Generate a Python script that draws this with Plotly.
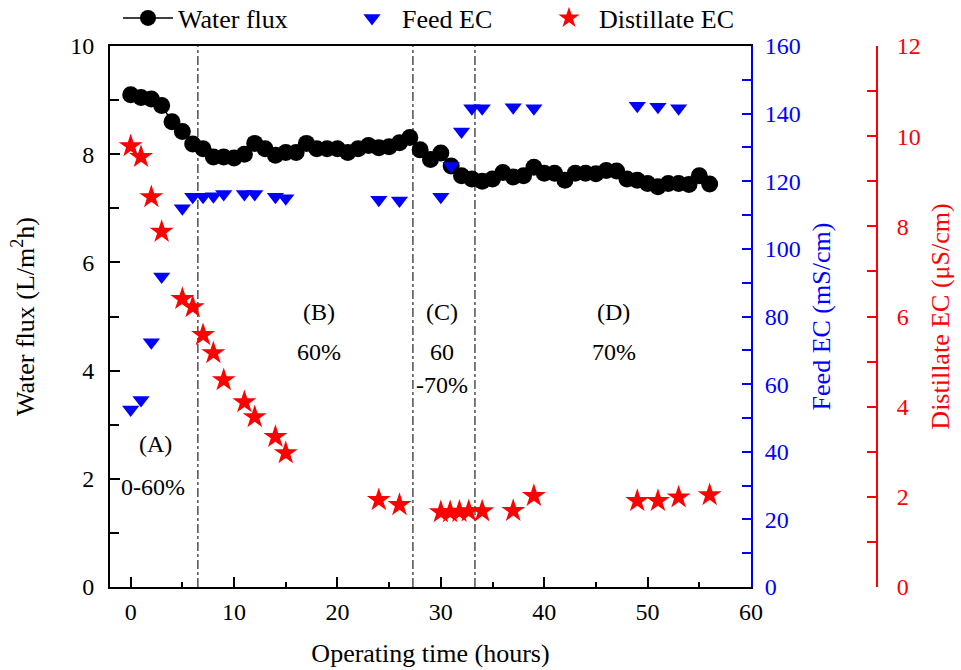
import plotly.graph_objects as go

# ---------------- data ----------------
flux_time = list(range(0, 57))
flux_values = [9.10, 9.05, 9.02, 8.90, 8.60, 8.42, 8.19, 8.10, 7.95, 7.95,
               7.93, 8.00, 8.20, 8.10, 7.98, 8.03, 8.03, 8.20, 8.10, 8.10,
               8.10, 8.03, 8.10, 8.16, 8.12, 8.14, 8.21, 8.31, 8.08, 7.90,
               8.02, 7.78, 7.60, 7.54, 7.50, 7.54, 7.66, 7.58, 7.60, 7.76,
               7.65, 7.65, 7.52, 7.65, 7.65, 7.64, 7.70, 7.69, 7.54, 7.52,
               7.46, 7.40, 7.46, 7.46, 7.44, 7.60, 7.45]

feed_time = [0, 1, 2, 3, 5, 6, 7, 8, 9, 11, 12, 14, 15, 24, 26,
             30, 31, 32, 33, 34, 37, 39, 49, 51, 53]
feed_values = [52.5, 55.3, 72.4, 91.8, 112.0, 115.4, 115.4, 115.6, 116.2, 116.2,
               116.2, 115.4, 115.0, 114.5, 114.3, 115.4, 124.5, 134.7, 141.6, 141.6,
               141.9, 141.6, 142.3, 142.0, 141.6]

dist_time = [0, 1, 2, 3, 5, 6, 7, 8, 9, 11, 12, 14, 15, 24, 26,
             30, 30.9, 31.8, 32.7, 34, 37, 39, 49, 51, 53, 56]
dist_values = [9.78, 9.54, 8.65, 7.88, 6.39, 6.21, 5.59, 5.19, 4.59, 4.10,
               3.77, 3.33, 2.97, 1.93, 1.82, 1.66, 1.66, 1.67, 1.68, 1.68,
               1.69, 2.02, 1.91, 1.91, 1.99, 2.04]

phase_boundaries = [6.5, 27.3, 33.3]

phase_labels = ["(A)", "0-60%", "(B)", "60%", "(C)", "60", "-70%", "(D)", "70%"]
phase_label_x = [2.4, 2.2, 18.2, 18.2, 30.1, 30.1, 30.1, 46.7, 46.7]
phase_label_y = [2.64, 1.85, 5.08, 4.34, 5.08, 4.34, 3.73, 5.08, 4.34]

FONT = "Liberation Serif"
FS = 24
TS = 26
BLUE = "#0000FF"
RED = "#FF0000"

fig = go.Figure()

fig.add_trace(go.Scatter(
    x=flux_time, y=flux_values, name="Water flux", mode="lines+markers",
    line=dict(color="black", width=1.5),
    marker=dict(symbol="circle", size=17, color="black"),
    yaxis="y", legend="legend"))

fig.add_trace(go.Scatter(
    x=feed_time, y=feed_values, name="Feed EC", mode="markers",
    marker=dict(symbol="triangle-down", size=15, color=BLUE),
    yaxis="y2", legend="legend2"))

fig.add_trace(go.Scatter(
    x=dist_time, y=dist_values, name="Distillate EC", mode="markers",
    marker=dict(symbol="star", size=18, color=RED),
    yaxis="y3", legend="legend3"))

for xb in phase_boundaries:
    fig.add_shape(type="line", xref="x", yref="y domain", x0=xb, x1=xb, y0=0, y1=1,
                  line=dict(color="#222222", width=1.2, dash="dashdot"), layer="below")

for t, xx, yy in zip(phase_labels, phase_label_x, phase_label_y):
    fig.add_annotation(text=t, x=xx, y=yy, xref="x", yref="y", showarrow=False,
                       font=dict(family=FONT, size=24, color="black"))

XDOM = (751 - 110) / 841.0
LEG_Y = (587 - 18) / 541.0
LEG_FONT = dict(family=FONT, size=26, color="black")

fig.update_layout(
    width=961, height=670,
    margin=dict(l=110, r=10, t=46, b=83, autoexpand=False),
    paper_bgcolor="white", plot_bgcolor="white",
    font=dict(family=FONT, size=FS, color="black"),
    xaxis=dict(
        domain=[0, XDOM], range=[-2, 60], tickvals=[0, 10, 20, 30, 40, 50, 60],
        showgrid=False, zeroline=False, showline=True, linecolor="black", linewidth=2,
        mirror=True, ticks="inside", ticklen=10, tickwidth=1.5, tickcolor="black",
        minor=dict(dtick=5, ticks="inside", ticklen=5, tickwidth=1.5, tickcolor="black"),
        ticklabelstandoff=2,
        title=dict(text="Operating time (hours)", standoff=20,
                   font=dict(family=FONT, size=TS)),
        tickfont=dict(family=FONT, size=FS)),
    yaxis=dict(
        range=[0, 10], tickvals=[0, 2, 4, 6, 8, 10],
        showgrid=False, zeroline=False, showline=True, linecolor="black", linewidth=2,
        ticks="inside", ticklen=10, tickwidth=1.5, tickcolor="black",
        minor=dict(dtick=1, ticks="inside", ticklen=9, tickwidth=1.5, tickcolor="black"),
        ticklabelstandoff=9,
        title=dict(text="Water flux (L/m<sup>2</sup>h)", standoff=28,
                   font=dict(family=FONT, size=TS)),
        tickfont=dict(family=FONT, size=FS)),
    yaxis2=dict(
        overlaying="y", side="right", anchor="x", range=[0, 160],
        tickvals=[0, 20, 40, 60, 80, 100, 120, 140, 160],
        showgrid=False, zeroline=False, showline=True, linecolor=BLUE, linewidth=2,
        ticks="inside", ticklen=9, tickwidth=1.5, tickcolor=BLUE,
        minor=dict(dtick=10, ticks="inside", ticklen=9, tickwidth=1.5, tickcolor=BLUE),
        ticklabelstandoff=7,
        title=dict(text="Feed EC (mS/cm)", standoff=12,
                   font=dict(family=FONT, size=TS, color=BLUE)),
        tickfont=dict(family=FONT, size=FS, color=BLUE)),
    yaxis3=dict(
        overlaying="y", side="right", anchor="free", position=(877 - 110) / 841.0,
        range=[0, 12], tickvals=[0, 2, 4, 6, 8, 10, 12],
        showgrid=False, zeroline=False, showline=True, linecolor=RED, linewidth=2,
        ticks="inside", ticklen=9, tickwidth=1.5, tickcolor=RED,
        minor=dict(dtick=1, ticks="inside", ticklen=9, tickwidth=1.5, tickcolor=RED),
        ticklabelstandoff=14,
        title=dict(text="Distillate EC (μS/cm)", standoff=10,
                   font=dict(family=FONT, size=TS, color=RED)),
        tickfont=dict(family=FONT, size=FS, color=RED)),
    legend=dict(x=(118 - 110) / 841.0, y=LEG_Y, xanchor="left", yanchor="middle",
                itemwidth=50, bgcolor="rgba(0,0,0,0)", font=LEG_FONT),
    legend2=dict(x=(342 - 110) / 841.0, y=LEG_Y, xanchor="left", yanchor="middle",
                 itemwidth=50, bgcolor="rgba(0,0,0,0)", font=LEG_FONT),
    legend3=dict(x=(539 - 110) / 841.0, y=LEG_Y, xanchor="left", yanchor="middle",
                 itemwidth=50, bgcolor="rgba(0,0,0,0)", font=LEG_FONT),
    showlegend=True,
)

fig.write_html("out.html")
